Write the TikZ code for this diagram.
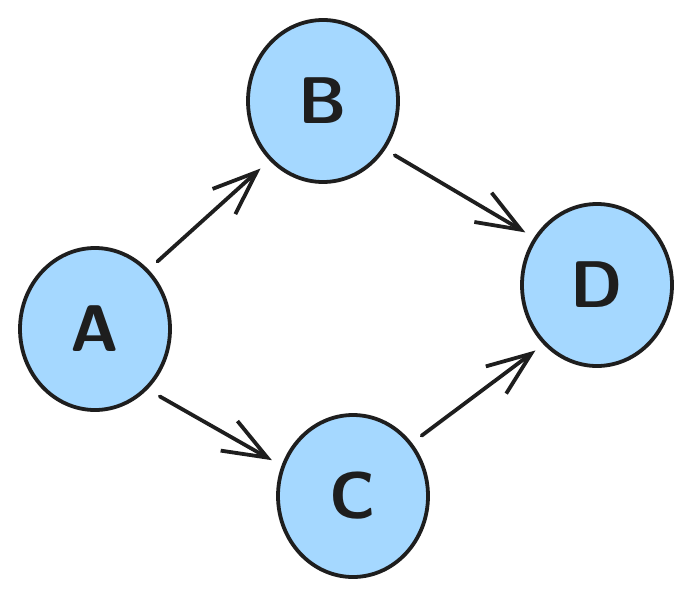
\documentclass[tikz,border=0pt]{standalone}
\usepackage{tikz}
\usepackage{xcolor}
\usetikzlibrary{shapes.geometric,arrows.meta,positioning}
\definecolor{nodeblue}{HTML}{A5D8FF}
\definecolor{inkdark}{HTML}{1E1E1E}

\begin{document}
\begin{tikzpicture}[x=1pt, y=-1pt,
				vertex/.style={ellipse, draw=inkdark, line width=3.8pt, fill=nodeblue, minimum width=150pt, minimum height=162pt, inner sep=0pt, font=\fontsize{66}{66}\selectfont\sffamily\bfseries, text=inkdark},
				edge/.style={-{Straight Barb[length=44pt, width=34pt]}, line width=3.8pt, draw=inkdark, line cap=round}]
				\useasboundingbox (0,0) rectangle (693,599);
				\node[vertex] (nA) at (95,329) {A};
				\node[vertex] (nB) at (323,101) {B};
				\node[vertex] (nC) at (353,496) {C};
				\node[vertex] (nD) at (597,285) {D};
				
				\draw[edge, shorten <=12pt, shorten >=12pt] (nA.48) -- (nB.228);
				\draw[edge, shorten <=11pt, shorten >=10pt] (nB.322) -- (nD.143);
				\draw[edge, shorten <=14pt, shorten >=11pt] (nA.311) -- (nC.157);
				\draw[edge, shorten <=12pt, shorten >=10pt] (nC.42) -- (nD.228);
			\end{tikzpicture}
\end{document}
